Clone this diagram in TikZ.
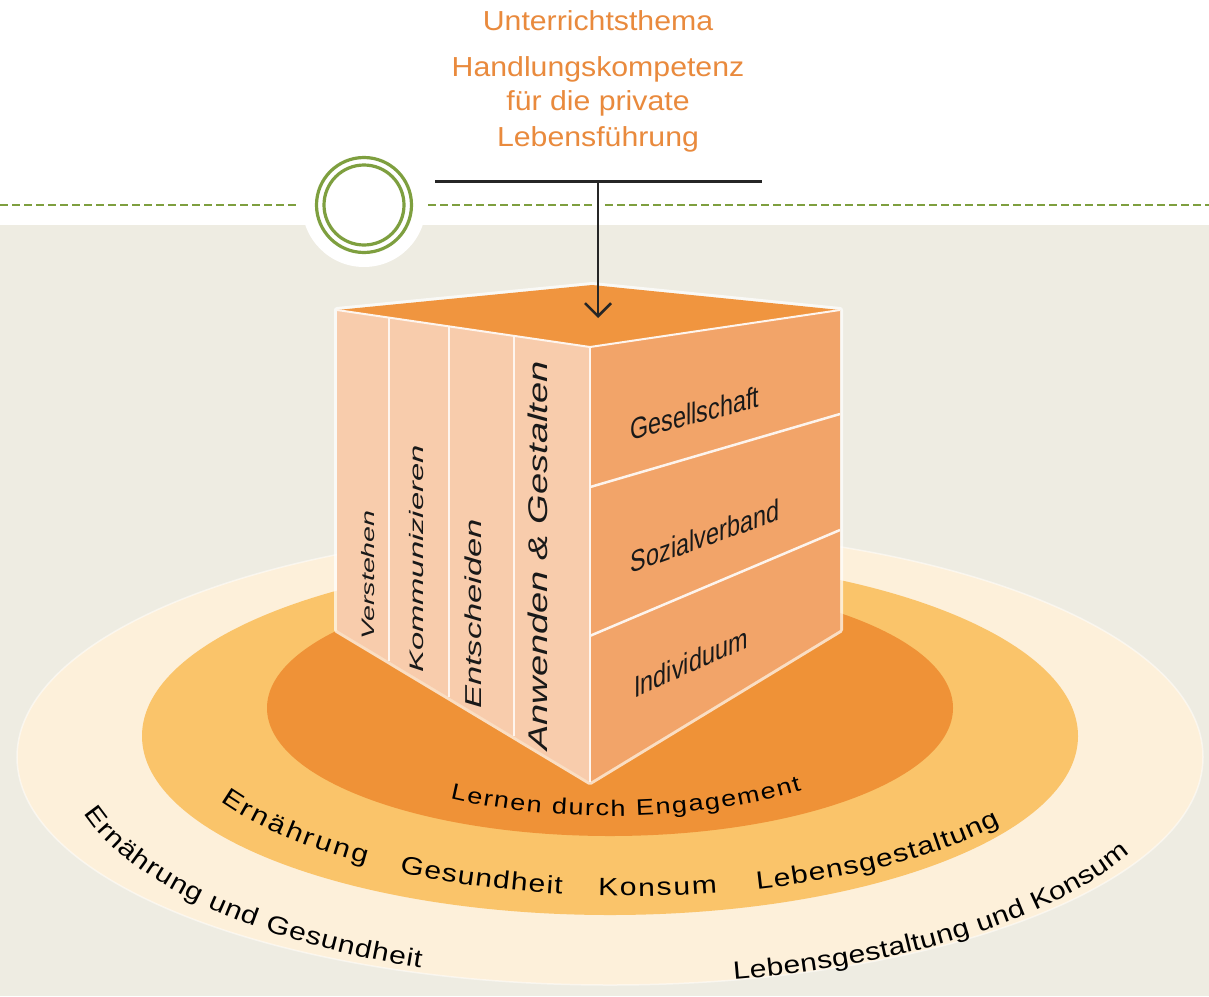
\documentclass[tikz,border=0pt]{standalone}
\usepackage{fontspec}
\usepackage{graphicx}
\setmainfont{Liberation Sans}
\newfontfamily\titlefont[FakeStretch=1.1]{Liberation Sans}
\newfontfamily\widefont[FakeStretch=1.2]{Liberation Sans}
\newfontfamily\narrowfont[FakeStretch=0.78]{Liberation Sans}
\usetikzlibrary{arrows.meta}
\usetikzlibrary{calc}
\usetikzlibrary{decorations.text}
\usetikzlibrary{positioning}

\definecolor{bgbeige}{HTML}{EEECE2}
\definecolor{ringgreen}{HTML}{7E9F3F}
\definecolor{titleorange}{HTML}{E98A3D}
\definecolor{topface}{HTML}{F0953F}
\definecolor{leftface}{HTML}{F8CCAC}
\definecolor{rightface}{HTML}{F2A469}
\definecolor{innerring}{HTML}{EF9237}
\definecolor{midring}{HTML}{FAC46A}
\definecolor{outerring}{HTML}{FDF0DA}

\newcommand{\lowfont}{\widefont\fontsize{25}{30}\selectfont}
\newcommand{\innerfont}{\widefont\fontsize{22.5}{27}\selectfont}

\begin{document}
\begin{tikzpicture}[x=1pt,y=-1pt,
		title/.style={font=\titlefont\fontsize{27.5}{32}\selectfont, text=titleorange, inner sep=0pt},
		edge line/.style={draw=white!80!leftface, line width=2pt, line join=round},
		divider/.style={draw=white!88!rightface, line width=2.5pt},
		strip line/.style={draw=white!80!leftface, line width=1.5pt},
		strip/.style={rotate=90, inner sep=0pt, text=black!90},
		level/.style={font=\narrowfont\fontsize{30}{34}\selectfont, inner sep=0pt, text=black!90},
		ringtext/.style={decorate, decoration={text along path, text align=fit to path, text={|\lowfont|#1}}},
		innertext/.style={decorate, decoration={text along path, text align=fit to path, text={|\innerfont|#1}}},
		greendash/.style={ringgreen, line width=1.5pt, dash pattern=on 8pt off 4pt}]
		
		% background
		\fill[white] (0,0) rectangle (1209,996);
		\fill[bgbeige] (0,225) rectangle (1209,996);
		\useasboundingbox (0,0) rectangle (1209,996);
		
		% rings
		\coordinate (outer) at (610,757);
		\coordinate (middle) at (610,736);
		\coordinate (inner) at (610,708);
		\fill[outerring] (outer) ellipse (593 and 228);
		\draw[white, line width=1.5pt, opacity=.5] (outer) ellipse (593 and 228);
		\fill[midring] (middle) ellipse (468 and 179);
		\fill[innerring] (inner) ellipse (343 and 128);
		
		% green line and circle
		\coordinate (ring) at (364,205);
		\fill[white] (ring) circle (62);
		\draw[greendash] (0,205) -- (298,205);
		\draw[greendash] (428,205) -- (592,205);
		\draw[greendash] (605,205) -- (1209,205);
		\draw[ringgreen, line width=3.2pt] (ring) circle (47.5) (ring) circle (40);
		
		% title
		\node[title, anchor=base] (thema) at (598,30) {Unterrichtsthema};
		\node[title, below=46pt of thema.base, anchor=base] (kompetenz) {Handlungskompetenz};
		\node[title, below=34pt of kompetenz.base, anchor=base] (privat) {für die private};
		\node[title, below=36pt of privat.base, anchor=base] (fuehrung) {Lebensführung};
		
		% cube
		\coordinate (lt) at (337,310);
		\coordinate (bk) at (592,285);
		\coordinate (rt) at (840,310);
		\coordinate (ft) at (590,347);
		\coordinate (lb) at (337,630);
		\coordinate (fb) at (590,782);
		\coordinate (rb) at (840,630);
		\draw[white, line width=6pt, opacity=.7, line join=round] (lt) -- (bk) -- (rt) -- (rb) -- (fb) -- (lb) -- cycle;
		\fill[leftface] (lt) -- (ft) -- (fb) -- (lb) -- cycle;
		\fill[rightface] (ft) -- (rt) -- (rb) -- (fb) -- cycle;
		\fill[topface] (lt) -- (bk) -- (rt) -- (ft) -- cycle;
		\foreach \t in {0.2055,0.4427,0.6996}
		\draw[strip line] ($(lt)!\t!(ft)$) -- ($(lb)!\t!(fb)$);
		\draw[divider] ($(ft)!0.322!(fb)$) -- ($(rt)!0.325!(rb)$);
		\draw[divider] ($(ft)!0.664!(fb)$) -- ($(rt)!0.6875!(rb)$);
		\draw[edge line] (lt) -- (ft) -- (rt);
		\draw[edge line] (ft) -- (fb);
		
		% arrow
		\coordinate (barL) at (435,181);
		\coordinate (barR) at (762,181);
		\coordinate (barM) at (598,181);
		\coordinate (tip) at (598,318);
		\draw[line width=3pt, black!85] (barL) -- (barR);
		\draw[line width=2.5pt, black!85, -{Straight Barb[length=13pt,width=26pt]}] (barM) -- (tip);
		
		% left face
		\node[strip] (verstehen) at (368,575) {\fontsize{18}{20}\selectfont\scalebox{1.59}[1]{\itshape Verstehen}};
		\node[strip] (kommunizieren) at (417,559) {\fontsize{19.5}{22}\selectfont\scalebox{1.68}[1]{\itshape Kommunizieren}};
		\node[strip] (entscheiden) at (473,614) {\fontsize{23}{25}\selectfont\scalebox{1.5}[1]{\itshape Entscheiden}};
		\node[strip] (anwenden) at (538,556) {\fontsize{27}{30}\selectfont\scalebox{1.41}[1]{\itshape Anwenden \& Gestalten}};
		
		% right face
		\node[level, yslant=0.26] (gesellschaft) at (695,413) {Gesellschaft};
		\node[level, yslant=0.36] (sozialverband) at (705,536) {Sozialverband};
		\node[level, yslant=0.45] (individuum) at (691,662) {Individuum};
		
		% ring labels
		\path[innertext={Lernen durch Engagement}] ($(inner)+(0,-32)+(119:330 and 140)$) arc (119:54.5:330 and 140);
		\coordinate (midtext) at (630,711);
		\path[ringtext={Ernährung}] ($(midtext)+(150.7:470 and 185)$) arc (150.7:124.2:470 and 185);
		\path[ringtext={Gesundheit}] ($(midtext)+(119.4:470 and 185)$) arc (119.4:98.3:470 and 185);
		\path[ringtext={Konsum}] ($(midtext)+(93.9:470 and 185)$) arc (93.9:79.3:470 and 185);
		\path[ringtext={Lebensgestaltung}] ($(midtext)+(74.3:470 and 185)$) arc (74.3:37.9:470 and 185);
		\coordinate (outtext) at (625,754);
		\path[ringtext={Ernährung und Gesundheit}] ($(outtext)+(165:560 and 230)$) arc (165:111.4:560 and 230);
		\path[ringtext={Lebensgestaltung und Konsum}] ($(outtext)+(78.8:560 and 230)$) arc (78.8:25.6:560 and 230);
		
\end{tikzpicture}
\end{document}
